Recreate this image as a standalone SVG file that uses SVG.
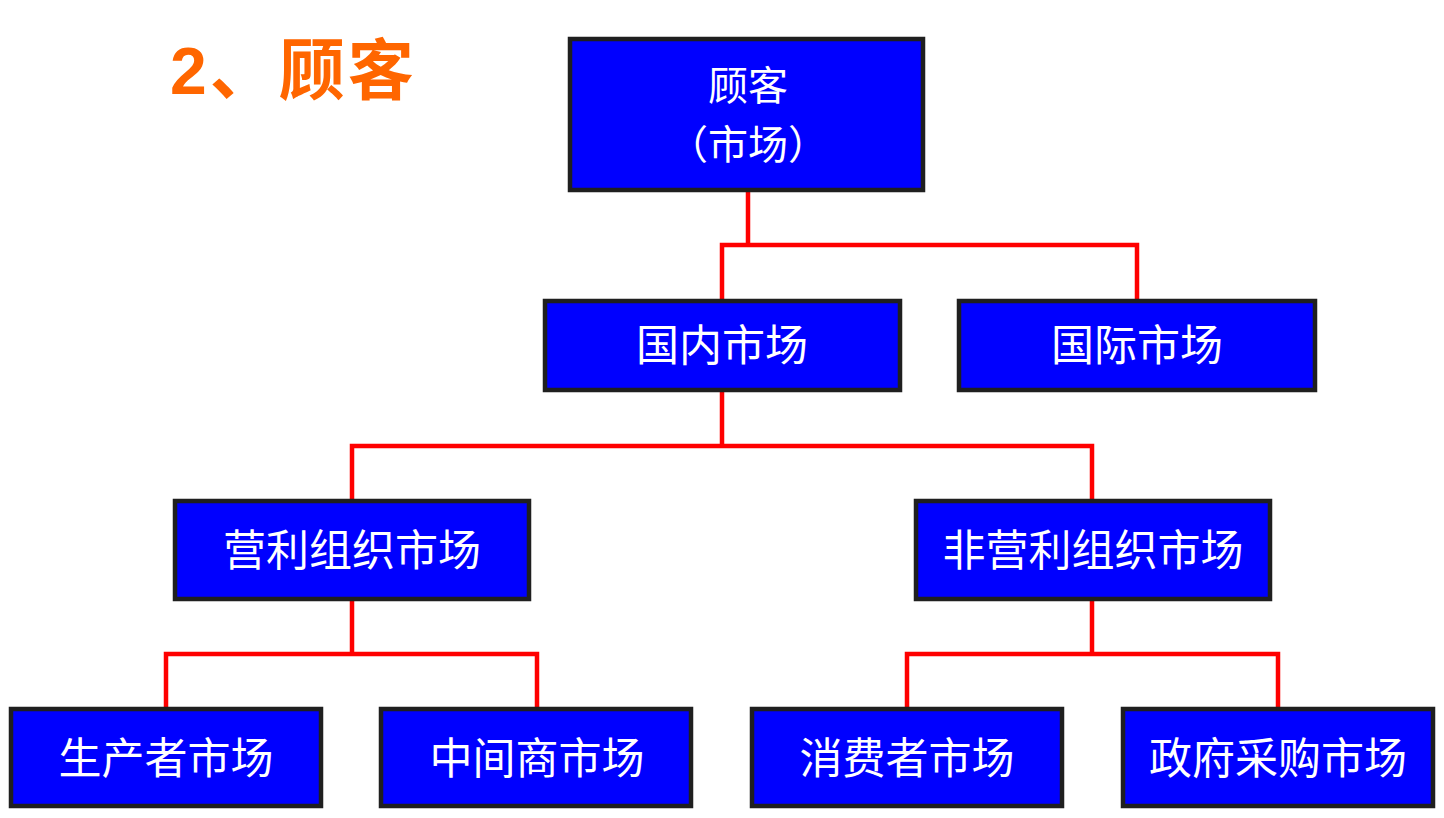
<svg xmlns="http://www.w3.org/2000/svg" width="1444" height="818" viewBox="0 0 1444 818">
<style>
.box{fill:#0000FF;stroke:#1F1F1F;stroke-width:4.5}
.lbl{fill:#FFFFFF;font-family:"Noto Sans CJK SC","Noto Sans",sans-serif;font-size:43px;text-anchor:middle;dominant-baseline:central}
.lbl2{font-size:40px}
.con{fill:none;stroke:#FF0000;stroke-width:4.5}
.title{fill:#FF6600;font-family:"Liberation Sans","Noto Sans CJK SC",sans-serif;font-size:66px;font-weight:bold;letter-spacing:3px}
</style>
<rect width="1444" height="818" fill="#FFFFFF"/>
<text class="title" x="170" y="94">2、顾客</text>
<g id="connectors">
<path class="con" d="M748 192V245M722 299V245H1137V299"/>
<path class="con" d="M722 392V446M352 499V446H1092V499"/>
<path class="con" d="M352 601V654M166 707V654H537V707"/>
<path class="con" d="M1092 601V654M907 707V654H1278V707"/>
</g>
<g id="n-root"><rect class="box" x="570" y="39" width="353" height="151"/><text class="lbl lbl2" x="748" y="83">顾客</text><text class="lbl lbl2" x="748" y="142">（市场）</text></g>
<g id="n-domestic"><rect class="box" x="545" y="301" width="355" height="89"/><text class="lbl" x="722" y="342">国内市场</text></g>
<g id="n-intl"><rect class="box" x="959" y="301" width="356" height="89"/><text class="lbl" x="1137" y="342">国际市场</text></g>
<g id="n-profit"><rect class="box" x="175" y="501" width="354" height="98"/><text class="lbl" x="352" y="547">营利组织市场</text></g>
<g id="n-nonprofit"><rect class="box" x="916" y="501" width="354" height="98"/><text class="lbl" x="1093" y="547">非营利组织市场</text></g>
<g id="n-producer"><rect class="box" x="11" y="709" width="310" height="97"/><text class="lbl" x="166" y="755">生产者市场</text></g>
<g id="n-reseller"><rect class="box" x="381" y="709" width="310" height="97"/><text class="lbl" x="537" y="755">中间商市场</text></g>
<g id="n-consumer"><rect class="box" x="752" y="709" width="310" height="97"/><text class="lbl" x="907" y="755">消费者市场</text></g>
<g id="n-gov"><rect class="box" x="1123" y="709" width="310" height="97"/><text class="lbl" x="1278" y="755">政府采购市场</text></g>
</svg>
